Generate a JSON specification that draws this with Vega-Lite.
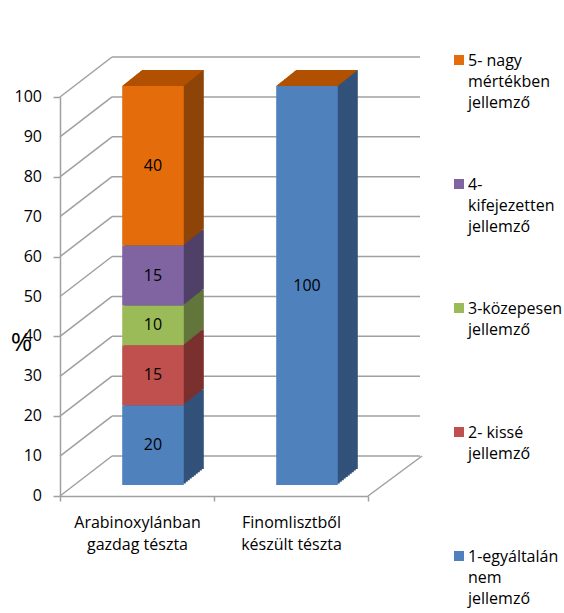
{
  "$schema": "https://vega.github.io/schema/vega-lite/v6.json",
  "autosize": "none",
  "width": 308,
  "height": 399,
  "padding": {"left": 60, "top": 97, "right": 196, "bottom": 117},
  "config": {
    "font": "Open Sans",
    "view": {"stroke": null},
    "style": {"guide-label": {"lineHeight": 21}},
    "axis": {"domainColor": "#a0a0a0", "tickColor": "#a0a0a0", "domainWidth": 1.5, "tickWidth": 1.5, "grid": false, "labelFont": "Open Sans", "labelFontSize": 16, "labelColor": "#000000", "labelOverlap": false},
    "legend": {"labelFont": "Open Sans", "labelFontSize": 16, "labelColor": "#000000"}
  },
  "datasets": {
    "adat": [
      {"termek": "Arabinoxylánban gazdag tészta", "jelleg": "1-egyáltalán nem jellemző", "ertek": 20},
      {"termek": "Arabinoxylánban gazdag tészta", "jelleg": "2- kissé jellemző", "ertek": 15},
      {"termek": "Arabinoxylánban gazdag tészta", "jelleg": "3-közepesen jellemző", "ertek": 10},
      {"termek": "Arabinoxylánban gazdag tészta", "jelleg": "4- kifejezetten jellemző", "ertek": 15},
      {"termek": "Arabinoxylánban gazdag tészta", "jelleg": "5- nagy mértékben jellemző", "ertek": 40},
      {"termek": "Finomlisztből készült tészta", "jelleg": "1-egyáltalán nem jellemző", "ertek": 100},
      {"termek": "Finomlisztből készült tészta", "jelleg": "2- kissé jellemző", "ertek": 0},
      {"termek": "Finomlisztből készült tészta", "jelleg": "3-közepesen jellemző", "ertek": 0},
      {"termek": "Finomlisztből készült tészta", "jelleg": "4- kifejezetten jellemző", "ertek": 0},
      {"termek": "Finomlisztből készült tészta", "jelleg": "5- nagy mértékben jellemző", "ertek": 0}
    ],
    "racs": [{"t": 0}, {"t": 10}, {"t": 20}, {"t": 30}, {"t": 40}, {"t": 50}, {"t": 60}, {"t": 70}, {"t": 80}, {"t": 90}, {"t": 100}]
  },
  "resolve": {"scale": {"x": "independent"}},
  "layer": [
    {
      "data": {"name": "racs"},
      "layer": [
        {
          "mark": {"type": "rule", "color": "#a0a0a0", "strokeWidth": 1.5, "yOffset": -40},
          "encoding": {
            "x": {"datum": 52, "type": "quantitative", "scale": {"domain": [0, 308]}, "axis": null},
            "x2": {"datum": 360},
            "y": {"field": "t", "type": "quantitative", "title": "%", "scale": {"domain": [0, 100]}}
          }
        },
        {
          "mark": {"type": "rule", "color": "#a0a0a0", "strokeWidth": 1.5, "y2Offset": -40},
          "encoding": {
            "x": {"datum": 0, "type": "quantitative", "scale": {"domain": [0, 308]}, "axis": null},
            "x2": {"datum": 52},
            "y": {"field": "t", "type": "quantitative", "title": "%"},
            "y2": {"field": "t"}
          }
        },
        {
          "transform": [{"filter": "datum.t == 0"}],
          "mark": {"type": "rule", "color": "#a0a0a0", "strokeWidth": 1.5, "y2Offset": -40},
          "encoding": {
            "x": {"datum": 308, "type": "quantitative", "scale": {"domain": [0, 308]}, "axis": null},
            "x2": {"datum": 362},
            "y": {"field": "t", "type": "quantitative", "title": "%"},
            "y2": {"field": "t"}
          }
        },
        {
          "mark": {"type": "text", "align": "right", "baseline": "middle", "xOffset": -18, "fontSize": 16, "font": "Open Sans", "color": "#000000"},
          "encoding": {
            "x": {"datum": 0, "type": "quantitative", "scale": {"domain": [0, 308]}, "axis": null},
            "y": {"field": "t", "type": "quantitative", "title": "%"},
            "text": {"field": "t", "type": "quantitative"}
          }
        }
      ]
    },
    {
      "data": {"name": "adat"},
      "encoding": {
        "x": {"field": "termek", "type": "nominal", "sort": null, "title": null,
          "scale": {"paddingInner": 0, "paddingOuter": 0},
          "axis": {"labelAngle": 0, "tickBand": "extent", "tickSize": 5, "labelPadding": 13, "labelLineHeight": 22,
            "labelExpr": "[slice(datum.label, 0, indexof(datum.label, ' ')), slice(datum.label, indexof(datum.label, ' ') + 1)]"}},
        "y": {"field": "ertek", "type": "quantitative", "title": "%", "stack": "zero",
          "axis": {"values": [0, 10, 20, 30, 40, 50, 60, 70, 80, 90, 100], "tickSize": 7, "labels": false,
            "titleAngle": 0, "titleAlign": "center", "titleBaseline": "alphabetic", "titleX": -39, "titleY": 253,
            "titleFontSize": 26, "titleFontWeight": "normal", "titleColor": "#000000", "titleFont": "Open Sans"}},
        "order": {"field": "jelleg", "sort": "ascending"}
      },
      "layer": [
        {"mark": {"type": "bar", "width": {"band": 0.4}, "xOffset": 36, "yOffset": -27}, "encoding": {"fill": {"field": "jelleg", "type": "nominal", "legend": null, "scale": {"domain": ["1-egyáltalán nem jellemző", "2- kissé jellemző", "3-közepesen jellemző", "4- kifejezetten jellemző", "5- nagy mértékben jellemző"], "range": ["#32527A", "#7A302E", "#62753A", "#504068", "#8E4408"]}}}},
        {"mark": {"type": "bar", "width": {"band": 0.4}, "xOffset": 34, "yOffset": -25.4}, "encoding": {"fill": {"field": "jelleg", "type": "nominal", "legend": null}}},
        {"mark": {"type": "bar", "width": {"band": 0.4}, "xOffset": 32, "yOffset": -23.8}, "encoding": {"fill": {"field": "jelleg", "type": "nominal", "legend": null}}},
        {"mark": {"type": "bar", "width": {"band": 0.4}, "xOffset": 30, "yOffset": -22.2}, "encoding": {"fill": {"field": "jelleg", "type": "nominal", "legend": null}}},
        {"mark": {"type": "bar", "width": {"band": 0.4}, "xOffset": 28, "yOffset": -20.6}, "encoding": {"fill": {"field": "jelleg", "type": "nominal", "legend": null}}},
        {"mark": {"type": "bar", "width": {"band": 0.4}, "xOffset": 26, "yOffset": -19}, "encoding": {"fill": {"field": "jelleg", "type": "nominal", "legend": null}}},
        {"mark": {"type": "bar", "width": {"band": 0.4}, "xOffset": 24, "yOffset": -17.4}, "encoding": {"fill": {"field": "jelleg", "type": "nominal", "legend": null}}},
        {"mark": {"type": "bar", "width": {"band": 0.4}, "xOffset": 22, "yOffset": -15.8}, "encoding": {"fill": {"field": "jelleg", "type": "nominal", "legend": null}}},
        {"mark": {"type": "bar", "width": {"band": 0.4}, "xOffset": 20, "yOffset": -14.2}, "encoding": {"fill": {"field": "jelleg", "type": "nominal", "legend": null}}},
        {"mark": {"type": "bar", "width": {"band": 0.4}, "xOffset": 18, "yOffset": -12.6}, "encoding": {"fill": {"field": "jelleg", "type": "nominal", "legend": null}}},
        {
          "transform": [
            {"stack": "ertek", "groupby": ["termek"], "sort": [{"field": "jelleg", "order": "ascending"}], "as": ["y0", "y1"]},
            {"filter": "datum.jelleg == '5- nagy mértékben jellemző'"}
          ],
          "mark": {"type": "point", "filled": true, "opacity": 1, "fill": "#B05000", "strokeWidth": 0, "xOffset": 16, "yOffset": -11,
            "shape": "M-1,0L1,0L1.649,-0.519L-0.351,-0.519Z", "size": 3795},
          "encoding": {"y": {"field": "y1", "type": "quantitative", "title": "%"}}
        },
        {
          "mark": {"type": "bar", "width": {"band": 0.4}, "xOffset": 16, "yOffset": -11},
          "encoding": {"color": {"field": "jelleg", "type": "nominal",
            "scale": {"domain": ["5- nagy mértékben jellemző", "4- kifejezetten jellemző", "3-közepesen jellemző", "2- kissé jellemző", "1-egyáltalán nem jellemző"], "range": ["#E46C0A", "#8064A2", "#9BBB59", "#C0504D", "#4F81BD"]},
            "legend": {"orient": "none", "legendX": 391, "legendY": -52, "title": null, "symbolType": "M-1,0.4H1V2.4H-1Z", "symbolSize": 100, "symbolStrokeWidth": 0,
              "labelBaseline": "top", "rowPadding": 58, "labelOffset": 1, "padding": 0, "labelLimit": 300,
              "labelExpr": "datum.label == '5- nagy mértékben jellemző' ? ['5- nagy', 'mértékben', 'jellemző'] : datum.label == '4- kifejezetten jellemző' ? ['4-', 'kifejezetten', 'jellemző'] : datum.label == '3-közepesen jellemző' ? ['3-közepesen', 'jellemző', ' '] : datum.label == '2- kissé jellemző' ? ['2- kissé', 'jellemző', ' '] : ['1-egyáltalán', 'nem', 'jellemző']"}}}
        },
        {
          "transform": [{"filter": "datum.ertek > 0"}],
          "mark": {"type": "text", "xOffset": 16, "yOffset": -11, "fontSize": 16, "color": "#000000", "font": "Open Sans"},
          "encoding": {
            "y": {"field": "ertek", "type": "quantitative", "title": "%", "stack": "zero", "bandPosition": 0.5},
            "detail": {"field": "jelleg"},
            "text": {"field": "ertek", "type": "quantitative"}
          }
        }
      ]
    }
  ]
}
